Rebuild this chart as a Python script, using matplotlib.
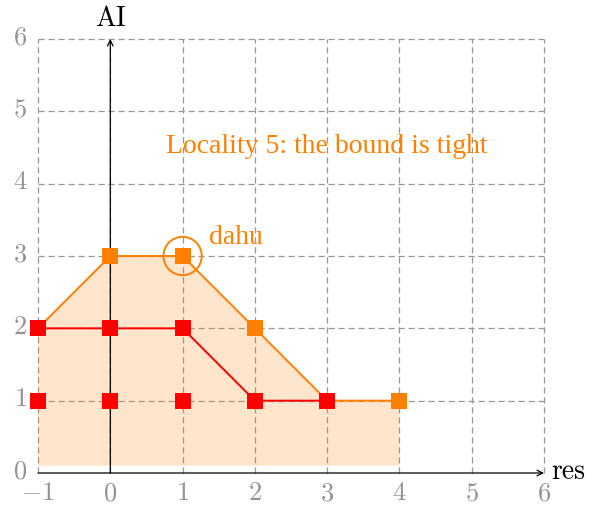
import numpy as np
import matplotlib
matplotlib.use("Agg")
from matplotlib import pyplot as plt
from matplotlib.patches import Circle

plt.rcParams['mathtext.fontset'] = 'cm'
plt.rcParams['font.family'] = ['cmr10', 'DejaVu Serif']

# bound (orange) and achieved points (red)
bound_x = [-1, 0, 1, 2, 3, 4]
bound_y = [2, 3, 3, 2, 1, 1]
bound_mark_x = [0, 1, 2, 4]
bound_mark_y = [3, 3, 2, 1]
red_line_x = [-1, 0, 1, 2, 3]
red_line_y = [2, 2, 2, 1, 1]
red_pts_x = [-1, 0, 1, 2, 3, -1, 0, 1]
red_pts_y = [1, 1, 1, 1, 1, 2, 2, 2]
fill_base = 0.1
dahu = (1, 3)

x_ticks = [-1, 0, 1, 2, 3, 4, 5, 6]
y_ticks = [0, 1, 2, 3, 4, 5, 6]

orange = '#ff8000'
red = '#ff0000'
grey = '#939393'
fs = 20
tick_fs = 19

fig = plt.figure(figsize=(5.96, 5.07), dpi=100)
ax = fig.add_axes([38 / 596, 34 / 507, 506 / 596, 434 / 507])
ax.set_xlim(-1, 6)
ax.set_ylim(0, 6)
ax.axis('off')

# dashed grid
for x in x_ticks:
    ax.plot([x, x], [0, 6], color='#979797', lw=0.9, dashes=(5, 3), clip_on=False, zorder=1)
for y in y_ticks[1:]:
    ax.plot([-1, 6], [y, y], color='#979797', lw=0.9, dashes=(5, 3), clip_on=False, zorder=1)

# shaded region under the bound
fx = [bound_x[0]] + bound_x + [bound_x[-1]]
fy = [fill_base] + bound_y + [fill_base]
ax.fill(fx, fy, color=orange, alpha=0.2, lw=0, zorder=2)

# axes with arrows
ax.annotate('', xy=(6, 0), xytext=(-1, 0),
            arrowprops=dict(arrowstyle='->', color='black', lw=0.9, shrinkA=0, shrinkB=0),
            annotation_clip=False, zorder=3)
ax.annotate('', xy=(0, 6), xytext=(0, 0),
            arrowprops=dict(arrowstyle='->', color='black', lw=0.9, shrinkA=0, shrinkB=0),
            annotation_clip=False, zorder=3)
ax.text(6.1, 0.02, 'res', fontsize=fs, va='center', ha='left')
ax.text(0, 6.1, 'AI', fontsize=fs, va='bottom', ha='center')

for x in x_ticks:
    ax.text(x, -0.12, '$%d$' % x, fontsize=tick_fs, color=grey, ha='center', va='top')
for y in y_ticks:
    ax.text(-1.15, y + 0.02, '$%d$' % y, fontsize=tick_fs, color=grey, ha='right', va='center')

# lines and markers
ax.plot(bound_x, bound_y, color=orange, lw=1.4, zorder=4, clip_on=False)
ax.plot(red_line_x, red_line_y, color=red, lw=1.4, zorder=5, clip_on=False)
ax.plot(bound_mark_x, bound_mark_y, 's', color=orange, ms=11, mew=0, zorder=6, clip_on=False)
ax.plot(red_pts_x, red_pts_y, 's', color=red, ms=11, mew=0, zorder=7, clip_on=False)

ax.add_patch(Circle(dahu, 0.265, fill=False, ec=orange, lw=1.4, zorder=8))
ax.text(dahu[0] + 0.37, dahu[1] + 0.25, 'dahu', fontsize=20, color=orange,
        family='Liberation Serif', ha='left', va='center')
ax.text(3.0, 4.52, 'Locality 5: the bound is tight', fontsize=20,
        color=orange, family='Liberation Serif', ha='center', va='center')

fig.savefig('out.png', dpi=100)
